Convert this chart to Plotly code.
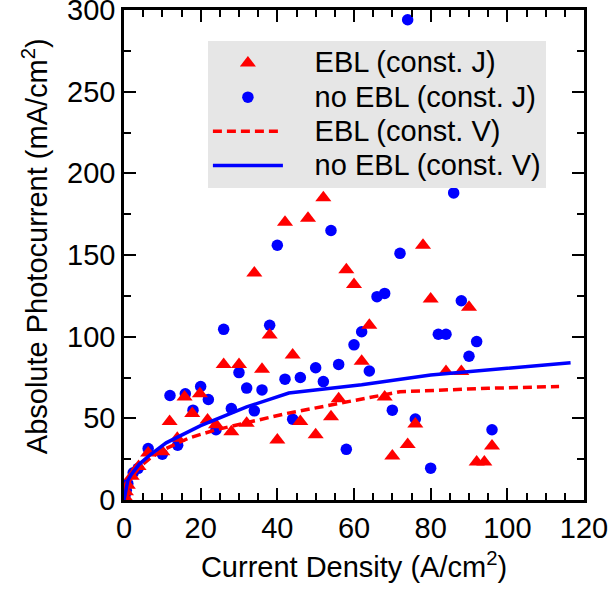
import plotly.graph_objects as go

# EBL (const. J) - red triangles
ebl_j_x = [0.2, 0.5, 1.0, 2.0, 3.8, 6.3, 10, 11.9, 13.9, 15.8, 17.8, 19.8, 21.8, 24, 26, 28, 30, 32, 34, 36,
           38, 40, 42, 44, 46, 48, 50, 52, 54, 56, 58, 60, 62, 64, 68, 70, 74, 76, 78, 80, 84, 88, 90, 92, 94, 96]
ebl_j_y = [2, 5, 9, 14.5, 20.5, 28.8, 29.6, 48, 37.8, 63, 53, 65, 49, 46, 83, 41.8, 83, 47, 139, 80,
           101, 36.7, 170, 88.8, 48, 172.5, 40, 185, 51, 62, 141, 132, 85, 107, 63, 27, 34, 46.5, 156, 123, 78.6, 78.6, 118, 23.2, 23.2, 33]

# no EBL (const. J) - blue circles
noebl_j_x = [0.3, 0.6, 1.0, 2.4, 3.7, 6.3, 10, 12, 14, 16, 18, 20, 22, 24, 26, 28, 30, 32, 34, 36, 38, 40,
             42, 44, 46, 50, 52, 54, 56, 58, 60, 62, 64, 66, 68, 70, 72, 74, 76, 80, 82, 84, 86, 88, 90, 92, 96]
noebl_j_y = [3, 6, 10, 16.7, 19.4, 31.5, 28, 64, 33.5, 65, 55, 69.5, 61.5, 43, 104.5, 56, 78, 68.5, 54.6, 67.4, 107, 156,
             74, 49.5, 75, 81, 72.5, 165, 83, 31, 95, 103, 79, 124.5, 126.5, 55, 151, 294, 49.6, 19.5, 101.5, 101.5, 188, 122, 88, 97, 43]

# EBL (const. V) - red dashed line
ebl_v_x = [0, 0.3, 1, 2, 4, 7, 10.5, 17, 24, 42.5, 62, 72, 95, 113.5]
ebl_v_y = [0, 3, 10, 14, 20, 26, 31, 38, 43, 53, 61.5, 66.3, 68.4, 69.5]

# no EBL (const. V) - blue solid line
noebl_v_x = [0, 0.3, 1, 2, 4, 7, 11, 20, 32, 43, 62, 80, 116.5]
noebl_v_y = [0, 4, 12, 16, 22, 28, 35, 45.5, 57, 65.5, 70.5, 76.5, 84]

legend_names = ["EBL (const. J)", "no EBL (const. J)", "EBL (const. V)", "no EBL (const. V)"]
x_title = "Current Density (A/cm<sup>2</sup>)"
y_title = "Absolute Photocurrent (mA/cm<sup>2</sup>)"

FONT = "Arial, Liberation Sans, sans-serif"


def leg(name):
    return '\u00a0\u00a0\u00a0\u00a0<span style="font-size:29px">' + name + '</span>'


fig = go.Figure()
fig.add_trace(go.Scatter(x=noebl_j_x, y=noebl_j_y, mode="markers", name=leg(legend_names[1]),
                         marker=dict(symbol="circle", size=11.5, color="#0000ff", line=dict(width=0)),
                         legendrank=2))
fig.add_trace(go.Scatter(x=ebl_j_x, y=ebl_j_y, mode="markers", name=leg(legend_names[0]),
                         marker=dict(symbol="triangle-up", size=14, color="#ff0000", line=dict(width=0)),
                         legendrank=1))
fig.add_trace(go.Scatter(x=ebl_v_x, y=ebl_v_y, mode="lines", name=leg(legend_names[2]),
                         line=dict(color="#ff0000", width=3.5, dash="9px,5px"), legendrank=3))
fig.add_trace(go.Scatter(x=noebl_v_x, y=noebl_v_y, mode="lines", name=leg(legend_names[3]),
                         line=dict(color="#0000ff", width=3.5), legendrank=4))

axis_common = dict(
    showline=True, linecolor="black", linewidth=2.5, mirror="allticks",
    ticks="inside", ticklen=12, tickwidth=2, tickcolor="black",
    showgrid=False, zeroline=False, automargin=False, ticklabeloverflow="allow",
    tickfont=dict(family=FONT, size=29, color="black"),
)

fig.update_xaxes(range=[0, 120], dtick=20, tick0=0,
                 minor=dict(dtick=5, ticks="inside", ticklen=7, tickwidth=2, tickcolor="black"),
                 title=dict(text=x_title, font=dict(family=FONT, size=29, color="black"), standoff=15),
                 **axis_common)
fig.update_yaxes(range=[0, 300], dtick=50, tick0=0,
                 minor=dict(dtick=25, ticks="inside", ticklen=7, tickwidth=2, tickcolor="black"),
                 **axis_common)

fig.add_annotation(text=y_title, xref="paper", yref="paper", x=-0.1935, y=0.518,
                   xanchor="center", yanchor="middle", textangle=-90, showarrow=False,
                   font=dict(family=FONT, size=29, color="black"))

fig.update_layout(
    width=608, height=592,
    margin=dict(l=124, r=24, t=10, b=92, autoexpand=False),
    plot_bgcolor="white", paper_bgcolor="white",
    font=dict(family=FONT, size=24, color="black"),
    legend=dict(x=0.1824, y=0.937, xanchor="left", yanchor="top",
                bgcolor="#e6e6e6", borderwidth=0, itemwidth=70,
                font=dict(family=FONT, size=24, color="black"),
                tracegroupgap=0, itemsizing="trace"),
    showlegend=True,
)

fig.write_html("out.html", config={"displayModeBar": False},
               post_script="document.body.style.margin='0';")
